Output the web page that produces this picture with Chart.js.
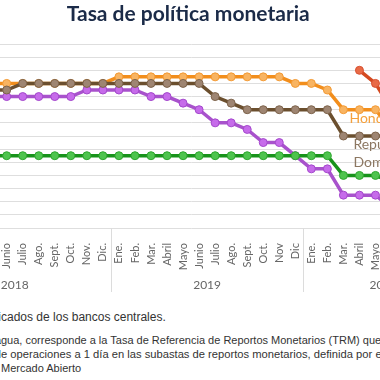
<!DOCTYPE html>
<html>
<head>
<meta charset="utf-8">
<script src="https://cdn.jsdelivr.net/npm/chart.js@4"></script>
<style>
  html, body { margin: 0; padding: 0; background: #fff; }
  body { width: 380px; height: 380px; overflow: hidden; position: relative; }
  #wrap { position: absolute; left: -100px; top: 0; width: 576px; height: 300px; }
  .note { position: absolute; white-space: nowrap; font-family: "Liberation Sans", Arial, sans-serif;
          font-size: 11px; color: #333; line-height: 13px; }
  #n1 { font-size: 12px; line-height: 14px; }
  #n3 { font-size: 11.2px; }
</style>
</head>
<body>
<div id="wrap"><canvas id="myChart" width="576" height="300"></canvas></div>
<div class="note" id="n1"><span class="pre">Fuente: SECMCA con datos publi</span>cados de los bancos centrales.</div>
<div class="note" id="n2"><span class="pre">1/ Para Nicara</span>gua, corresponde a la Tasa de Referencia de Reportos Monetarios (TRM) que es la tasa de interés</div>
<div class="note" id="n3"><span class="pre">tasa de interés d</span>e operaciones a 1 día en las subastas de reportos monetarios, definida por el Comité de Operaciones de</div>
<div class="note" id="n4">Mercado Abierto</div>
<script>
const months = [
  'Ene.', 'Feb.', 'Mar.', 'Abril', 'Mayo', 'Junio', 'Julio', 'Ago.', 'Sept.', 'Oct.', 'Nov.', 'Dic.',
  'Ene.', 'Feb.', 'Mar.', 'Abril', 'Mayo', 'Junio', 'Julio', 'Ago.', 'Sept.', 'Oct.', 'Nov', 'Dic',
  'Ene.', 'Feb.', 'Mar.', 'Abril', 'Mayo', 'Junio', 'Julio', 'Ago.', 'Sept.', 'Oct.',
];
const years = ['2018', '2019', '2020'];
const yearMonths = [12, 12, 10];

const honduras = [
  5.5, 5.5, 5.5, 5.5, 5.5, 5.5, 5.5, 5.5, 5.5, 5.5, 5.5, 5.5,
  5.75, 5.75, 5.75, 5.75, 5.75, 5.75, 5.75, 5.75, 5.75, 5.75, 5.75, 5.5,
  5.5, 5.25, 4.5, 4.5, 4.5, 3.75, 3.75, 3.5, 3.0, 3.0,
];
const repDominicana = [
  5.25, 5.25, 5.25, 5.25, 5.25, 5.25, 5.5, 5.5, 5.5, 5.5, 5.5, 5.5,
  5.5, 5.5, 5.5, 5.5, 5.5, 5.5, 5.0, 4.75, 4.5, 4.5, 4.5, 4.5,
  4.5, 4.5, 3.5, 3.5, 3.5, 3.5, 3.5, 3.0, 3.0, 3.0,
];
const costaRica = [
  5.0, 5.0, 5.0, 5.0, 5.0, 5.0, 5.0, 5.0, 5.0, 5.0, 5.25, 5.25,
  5.25, 5.25, 5.0, 5.0, 4.75, 4.5, 4.0, 4.0, 3.75, 3.25, 3.25, 2.75,
  2.25, 2.25, 1.25, 1.25, 1.25, 0.75, 0.75, 0.75, 0.75, 0.75,
];
const guatemala = [
  2.75, 2.75, 2.75, 2.75, 2.75, 2.75, 2.75, 2.75, 2.75, 2.75, 2.75, 2.75,
  2.75, 2.75, 2.75, 2.75, 2.75, 2.75, 2.75, 2.75, 2.75, 2.75, 2.75, 2.75,
  2.75, 2.75, 2.0, 2.0, 2.0, 1.75, 1.75, 1.75, 1.75, 1.75,
];
const nicaragua = [
  null, null, null, null, null, null, null, null, null, null, null, null,
  null, null, null, null, null, null, null, null, null, null, null, null,
  null, null, null, 6.0, 5.5, 4.5, 4.25, 3.75, 3.5, 3.5,
];

const serie = (label, data, line, fill, border, order) => ({
  label, data, order,
  borderColor: line,
  backgroundColor: fill,
  pointBackgroundColor: fill,
  pointBorderColor: border,
  pointBorderWidth: 1,
  pointRadius: 4,
  borderWidth: 3.5,
  tension: 0,
});

// year row and separators under the month labels
const yearRow = {
  id: 'yearRow',
  afterDraw(chart) {
    const { ctx, scales: { x }, chartArea } = chart;
    const bottom = chartArea.bottom;
    ctx.save();
    ctx.font = '12px Lato';
    ctx.fillStyle = '#666';
    ctx.textAlign = 'center';
    ctx.textBaseline = 'middle';
    let start = 0;
    years.forEach((y, i) => {
      const end = start + yearMonths[i] - 1;
      const cx = (x.getPixelForValue(start) + x.getPixelForValue(end)) / 2;
      ctx.fillText(y, cx, bottom + 57);
      if (start > 0) {
        const sx = Math.round((x.getPixelForValue(start - 1) + x.getPixelForValue(start)) / 2) + 0.5;
        ctx.strokeStyle = '#dcdcdc';
        ctx.lineWidth = 1;
        ctx.beginPath();
        ctx.moveTo(sx, bottom);
        ctx.lineTo(sx, bottom + 64);
        ctx.stroke();
      }
      start = end + 1;
    });
    ctx.restore();
  },
};

// series names written next to the lines
const seriesNames = {
  id: 'seriesNames',
  afterDatasetsDraw(chart) {
    const { ctx, scales: { x, y } } = chart;
    ctx.save();
    ctx.font = '14px Lato';
    ctx.textBaseline = 'middle';
    ctx.fillStyle = '#F5A13D';
    ctx.fillText('Honduras', x.getPixelForValue(26) + 6, y.getPixelForValue(4.17));
    ctx.fillStyle = '#8C7762';
    ctx.fillText('República', x.getPixelForValue(26) + 10, y.getPixelForValue(3.18));
    ctx.fillText('Dominicana', x.getPixelForValue(26) + 10, y.getPixelForValue(2.5));
    ctx.restore();
  },
};

const ctx = document.getElementById('myChart').getContext('2d');
const myChart = new Chart(ctx, {
  type: 'line',
  data: {
    labels: months,
    datasets: [
      serie('Honduras', honduras, '#F28E1C', '#F8B462', '#F39A34', 4),
      serie('República Dominicana', repDominicana, '#6B4F2E', '#9E8572', '#7D634B', 1),
      serie('Costa Rica', costaRica, '#A852CC', '#C66BEA', '#A448CC', 3),
      serie('Guatemala', guatemala, '#18931B', '#4EC44E', '#2FA62F', 2),
      serie('Nicaragua 1/', nicaragua, '#D44A20', '#E86B47', '#D85030', 5),
    ],
  },
  options: {
    responsive: false,
    animation: false,
    layout: { padding: { left: 10.5, right: 10.1, top: 0, bottom: 0 } },
    plugins: {
      legend: { display: false },
      tooltip: { enabled: false },
      title: {
        display: true,
        text: 'Tasa de política monetaria',
        color: '#1B2B48',
        font: { family: 'Lato', size: 21, weight: 'bold' },
        padding: { top: 2, bottom: 16.8 },
      },
    },
    scales: {
      x: {
        offset: true,
        grid: { display: false },
        border: { display: false },
        ticks: {
          autoSkip: false,
          minRotation: 90,
          maxRotation: 90,
          padding: 7,
          color: '#666',
          font: { family: 'Lato', size: 11 },
        },
        afterFit: (scale) => { scale.height = 72; },
      },
      y: {
        min: 0,
        max: 7,
        ticks: { display: false, stepSize: 0.5 },
        grid: { color: '#dedede', drawTicks: false },
        border: { display: false },
        afterFit: (scale) => { scale.width = 8; },
      },
    },
  },
  plugins: [yearRow, seriesNames],
});

// footnote lines are cut at the left edge like the original crop
const place = (id, top) => {
  const el = document.getElementById(id);
  const pre = el.querySelector('.pre');
  const w = pre ? pre.getBoundingClientRect().width : 0;
  el.style.left = (1 - w) + 'px';
  el.style.top = top + 'px';
};
place('n1', 310);
place('n2', 334);
place('n3', 348);
place('n4', 362);
</script>
</body>
</html>
